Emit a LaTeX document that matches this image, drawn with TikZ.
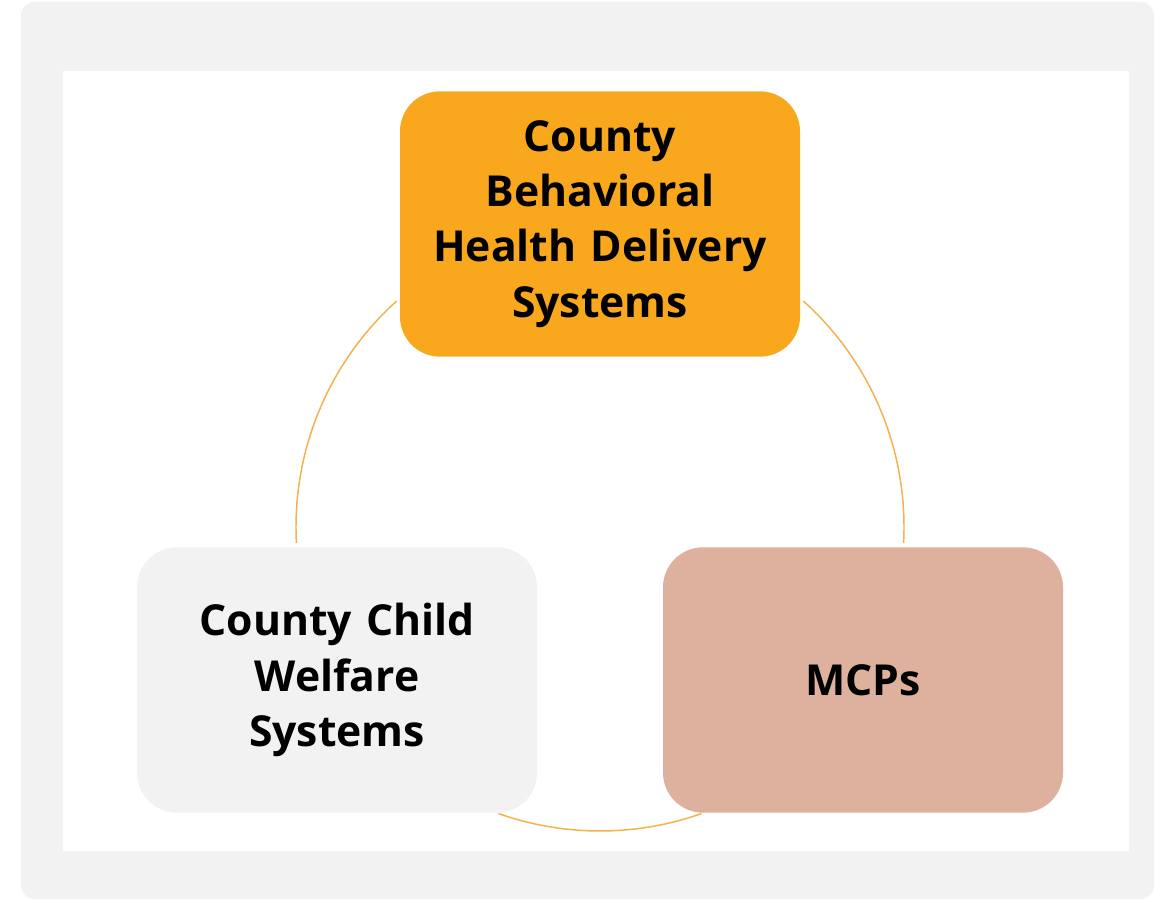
\documentclass[tikz,border=0pt]{standalone}
\usepackage{fontspec}
\setmainfont{Open Sans}
\usetikzlibrary{calc}
\definecolor{panelgray}{HTML}{F2F2F2}
\definecolor{cardorange}{HTML}{F9A81E}
\definecolor{cardtan}{HTML}{DDB19D}
\definecolor{ringline}{HTML}{F7B04A}
\tikzset{
  card/.style={rounded corners=30pt, minimum width=300pt, minimum height=199pt,
    inner sep=0pt, align=center, text width=285pt,
    font=\fontsize{32}{41.5}\selectfont\bfseries},
  ring/.style={draw=ringline, line width=1.1pt},
}
\begin{document}
\begin{tikzpicture}[x=0.75pt,y=0.75pt]
  \useasboundingbox (0,0) rectangle (1168,900);
  % frame
  \fill[panelgray, rounded corners=10pt] (21,1) rectangle (1154,898);
  \fill[white] (63,49) rectangle (1129,829);
  % ring behind the cards
  \coordinate (c) at (600,373);
  \draw[ring] ($(c)+(132:304)$) arc[start angle=132, end angle=183, radius=304];
  \draw[ring] ($(c)+(48:304)$) arc[start angle=48, end angle=-3, radius=304];
  \draw[ring] ($(c)+(250.5:304)$) arc[start angle=250.5, end angle=289.5, radius=304];
  % cards
  \node[card, fill=cardorange] (bh) at (600,676) {County\\Behavioral\\Health Delivery\\Systems};
  \node[card, fill=panelgray] (cw) at (337,220) {County Child\\Welfare\\Systems};
  \node[card, fill=cardtan] (mcp) at (863,220) {MCPs};
\end{tikzpicture}
\end{document}
